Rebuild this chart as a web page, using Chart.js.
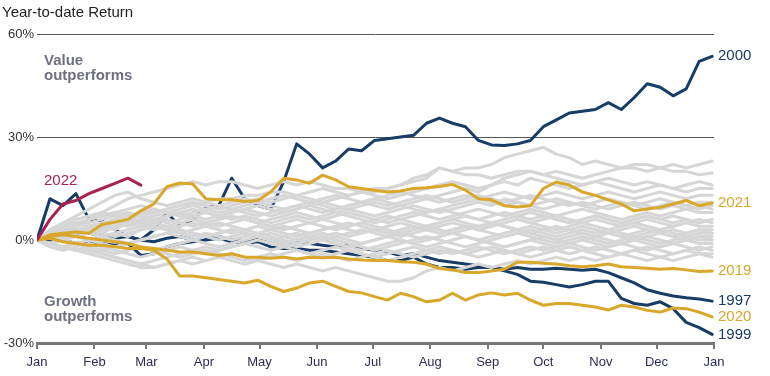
<!DOCTYPE html>
<html>
<head>
<meta charset="utf-8">
<script src="https://cdn.jsdelivr.net/npm/chart.js@4"></script>
<style>
  body { margin: 0; background: #fff; }
  #wrap { width: 770px; height: 376px; position: relative; }
</style>
</head>
<body>
<div id="wrap"><canvas id="ytd_chart"></canvas></div>
<script>
// x positions: day of year, one point a week
const days = [0,7,14,21,28,35,42,49,56,63,70,77,84,91,98,105,112,119,126,133,140,147,154,161,168,175,182,189,196,203,210,217,224,231,238,245,252,259,266,273,280,287,294,301,308,315,322,329,336,343,350,357,364];
const monthDays = [0,31,59,90,120,151,181,212,243,273,304,334,365];
const monthLabels = ['Jan','Feb','Mar','Apr','May','Jun','Jul','Aug','Sep','Oct','Nov','Dec','Jan'];
const yTicks = [-30, 0, 30, 60];

// highlighted years (% year-to-date)
const y2000 = [0,12,10,13.5,6,5.5,3,1,0,3,8,4,6,9.5,10,18,12,10,9,17,28,25,21,23,26.5,26,29,29.5,30,30.5,34,35.5,34,33,29,27.7,27.5,28,29,33,35,37,37.5,38,40,38,41.5,45.5,44.5,42,44,52,53.5];
const y1999 = [0,-0.5,0,-1,-0.5,-1,-1.5,-1,-4.5,-4,-2,-1,-0.5,0,0.5,-0.5,-1,-0.5,-2,-2.5,-2.5,-3,-3,-3.5,-4,-4.5,-5,-6,-6,-5,-7,-8,-8,-8.5,-8,-8,-9,-10,-12,-12.3,-13,-13.7,-13,-12,-12,-17,-18.5,-19,-18,-20,-24,-25.5,-27.5];
const y1997 = [0,1,2,1.5,2,1,0.5,1,0,-0.5,0.5,1,0,0.5,1,0,-0.5,0.5,0,-1,-0.5,-1,-1.5,-2,-1.5,-2.5,-3,-3.5,-4.5,-4,-5,-6,-6.5,-7,-7.5,-8,-8.5,-8,-8.5,-8.5,-8.2,-8.5,-8.8,-8.5,-9.5,-11,-12.5,-14.5,-15.5,-16.3,-16.8,-17.2,-17.8];
const y2019 = [0,1,1.5,1,0.5,0,-0.5,-1,-2,-2.5,-3,-3.5,-3.5,-4,-4.5,-4,-5,-5,-5.3,-5,-5.5,-5,-5.2,-5,-5.5,-5.8,-6,-6,-6.3,-6.5,-7,-8.3,-8.7,-9.5,-9.5,-9,-8.5,-6.5,-6.5,-6.8,-7,-7.5,-7.8,-7.5,-7,-7.8,-8,-8.2,-8.5,-8.3,-8.7,-9.2,-9];
const y2020 = [0,0.5,-0.5,-1,-1.5,-1.5,-2,-2.5,-2.5,-3,-5.5,-10.5,-10.5,-11,-11.5,-12,-12.5,-11.7,-13.5,-15,-14,-12.5,-12,-13.5,-15,-15.4,-16.5,-17.5,-15.5,-16.5,-18,-17.5,-15.5,-17.5,-16,-15.4,-16,-15.5,-17.5,-19,-18.5,-18.5,-19,-19.5,-20.4,-19,-19.5,-20.5,-21,-19.8,-20,-21,-22.4];
const y2021 = [0,1.5,2,2.3,2,4.5,5.2,6,8.5,10.5,15.5,16.6,16.3,12,11.7,11.7,11.2,11.5,14,18,17.5,16.5,18.9,17.5,15.5,15,14.5,14,14.3,15,15.2,15.6,16.2,14.5,12,11.7,10,9.6,10,15,16.9,16,14,13,11.7,10.5,8.5,9,9.5,10.5,11.5,10,10.8];
const y2022 = [0,6,10.5,11.5,13.5,15,16.5,18,16];

// all other years, grey
const greyYears = [
  [0,2,3,5,6,8,10,12,13,14,15,16,17,16,17,17,16,15,16,17,16,17,16,15,15,14,14,15,16,18,19,21,20,21,21,22,24,25,26,27,25,24,22,23,22,21,22,22,21,22,21,22,23],
  [0,1,2,3,4,5,6,7,8,8,9,10,10,11,12,12,13,13,14,14,13,14,15,14,13,14,15,15,16,17,18,21,20,19,19,18,19,20,20,19,20,19,18,19,20,21,21,20,21,20,20,19,19.5],
  [0,3,5,7,9,11,13,14,12,11,10,11,12,11,10,11,12,11,12,13,12,11,12,13,12,11,12,13,14,13,12,13,14,15,14,16,17,16,18,17,16,15,16,17,16,15,14,15,16,15,14,15,15],
  [0,1,3,4,6,7,8,9,10,9,8,9,10,9,8,9,10,11,10,9,10,11,10,9,10,11,12,11,10,11,12,11,12,13,12,13,14,13,12,13,14,13,12,13,14,13,12,13,14,13,12,13,13],
  [0,-1,1,2,3,2,4,5,6,5,7,8,7,6,7,8,9,8,7,8,9,10,9,8,9,8,7,8,9,10,9,8,9,10,11,10,12,11,10,11,12,11,10,11,12,11,10,11,12,11,10,11,11],
  [0,2,3,2,4,5,4,6,7,6,5,6,7,8,7,6,7,6,5,6,7,6,7,8,7,6,5,6,7,8,7,6,7,8,9,8,7,8,9,8,7,8,9,8,7,6,7,8,7,8,9,8,8],
  [0,1,0,2,3,4,3,5,4,3,4,5,6,5,4,5,6,5,4,3,4,5,6,5,4,5,6,7,6,5,4,5,6,5,4,5,6,7,8,7,6,5,6,7,6,5,6,7,6,5,6,5,6],
  [0,-1,-2,-1,0,1,2,1,3,4,3,2,3,4,5,4,3,2,3,4,3,2,3,4,5,4,3,4,5,4,3,2,3,4,3,4,5,6,5,4,3,4,5,4,3,4,5,4,3,4,5,4,4],
  [0,1,2,3,2,1,2,3,4,5,4,3,2,1,2,3,2,1,0,1,2,1,0,1,2,3,2,1,2,3,4,3,2,3,4,5,4,3,2,3,4,3,2,1,2,3,4,3,2,3,2,3,3],
  [0,-1,0,1,0,-1,-2,-1,0,1,2,1,0,1,2,3,2,1,2,1,0,1,2,1,0,-1,0,1,2,1,0,1,2,1,0,1,2,3,2,1,0,1,2,1,2,1,0,1,2,1,0,1,1],
  [0,1,0,-1,-2,-3,-2,-1,-2,-3,-2,-1,0,-1,-2,-1,0,1,0,-1,-2,-1,0,-1,-2,-3,-2,-1,0,-1,-2,-1,0,1,0,-1,-2,-1,0,-1,-2,-1,0,-1,-2,-1,0,-1,-2,-1,0,-1,-1],
  [0,-1,-2,-3,-2,-3,-4,-3,-2,-3,-4,-5,-4,-3,-4,-5,-6,-5,-4,-5,-6,-5,-4,-5,-6,-5,-4,-3,-4,-5,-4,-3,-4,-3,-2,-3,-4,-3,-2,-3,-2,-1,-2,-3,-2,-1,-2,-3,-2,-1,-2,-3,-2],
  [0,-1,-2,-3,-3,-4,-5,-6,-7,-8,-7,-6,-7,-6,-5,-6,-7,-6,-7,-8,-7,-8,-9,-8,-9,-10,-11,-12,-12,-11,-9,-8,-9,-8,-7,-8,-7,-6,-7,-6,-5,-6,-5,-6,-5,-4,-5,-6,-5,-6,-5,-4,-5],
  [0,-2,-3,-2,-1,-2,-3,-4,-5,-4,-3,-2,-3,-4,-3,-2,-1,-2,-3,-2,-3,-4,-3,-2,-3,-4,-5,-4,-3,-2,-3,-4,-3,-4,-5,-4,-3,-4,-5,-4,-3,-2,-3,-4,-5,-4,-3,-4,-5,-4,-3,-4,-4],
  [0,2,4,5,4,3,4,5,6,7,8,7,6,5,6,7,6,5,4,5,6,5,4,3,4,5,4,3,2,3,4,5,6,7,6,5,4,3,4,3,2,3,4,3,2,1,2,3,2,1,2,3,2],
  [0,1,3,2,3,4,5,4,5,6,7,8,9,8,7,8,9,10,9,8,9,10,11,10,9,10,11,10,11,12,13,12,11,12,13,12,11,12,13,12,11,10,11,10,9,10,11,10,9,10,9,10,9],
  [0,2,4,6,7,8,7,6,5,4,3,2,1,2,1,0,1,2,1,0,-1,0,1,2,1,2,3,2,3,4,3,4,5,4,3,4,5,6,5,6,7,6,5,6,5,4,5,6,5,4,5,6,5],
  [0,-1,-2,-1,-3,-4,-5,-6,-7,-6,-5,-4,-3,-2,-3,-2,-1,0,-1,-2,-1,0,1,0,-1,-2,-3,-2,-1,0,1,0,-1,-2,-1,0,1,2,1,0,-1,0,1,0,-1,0,1,0,-1,0,1,0,0],
  [0,1,2,1,2,3,4,5,4,5,6,5,4,5,6,7,6,5,6,7,8,7,6,7,8,7,6,5,6,7,8,9,8,7,6,7,8,7,6,7,6,5,6,7,6,5,6,7,6,7,6,5,6],
  [0,0.5,1,2,3,2,1,2,3,4,3,4,5,4,3,2,3,4,3,2,1,2,3,4,3,2,3,2,1,2,3,2,3,4,3,2,1,2,3,2,1,2,3,2,3,2,1,2,3,2,1,2,2],
  [0,2,3,4,6,7,8,7,8,9,8,7,8,9,10,9,8,7,8,9,10,9,8,9,10,11,10,9,10,9,8,9,10,11,12,11,10,11,10,9,10,11,10,9,10,11,10,9,10,11,10,9,10],
  [0,-1,-2,-3,-4,-5,-6,-7,-8,-8,-7,-6,-5,-6,-5,-4,-5,-6,-5,-4,-3,-4,-5,-4,-3,-4,-5,-6,-5,-4,-3,-2,-3,-4,-3,-2,-3,-4,-3,-2,-3,-4,-3,-2,-3,-4,-3,-2,-3,-4,-3,-2,-3],
  [0,1,2,1,0,1,0,-1,0,1,2,3,2,1,0,1,2,1,0,-1,0,1,0,-1,-2,-1,0,1,0,-1,0,1,2,1,0,-1,-2,-1,0,1,0,-1,0,1,0,-1,0,1,0,-1,0,1,0],
  [0,1,2,4,5,6,7,8,7,8,9,10,11,10,9,10,11,12,11,12,13,12,11,12,13,14,13,12,13,14,15,16,17,16,15,16,18,19,20,19,18,17,16,17,18,17,16,17,16,15,16,17,16]
];

const NAVY = '#173c66';
const GOLD = '#d9a72a';
const CRIMSON = '#a8234f';
const GREY = '#d6d6d6';
const FONT = '"Liberation Sans", Arial, sans-serif';

function toPoints(values) {
    return values.map((v, i) => ({ x: days[i], y: v }));
}

// order: lower number is drawn on top
const highlighted = [
    { year: '2022', values: y2022, color: CRIMSON, order: 0, endLabel: false },
    { year: '2021', values: y2021, color: GOLD, order: 0, endLabel: true },
    { year: '2020', values: y2020, color: GOLD, order: 0, endLabel: true },
    { year: '2019', values: y2019, color: GOLD, order: 0, endLabel: true },
    { year: '2000', values: y2000, color: NAVY, order: 2, endLabel: true },
    { year: '1999', values: y1999, color: NAVY, order: 2, endLabel: true },
    { year: '1997', values: y1997, color: NAVY, order: 2, endLabel: true }
];

const datasets = [];
highlighted.forEach(h => {
    datasets.push({
        label: h.year,
        data: toPoints(h.values),
        borderColor: h.color,
        borderWidth: 3,
        order: h.order,
        endLabel: h.endLabel
    });
});
greyYears.forEach((g, ind) => {
    datasets.push({
        label: 'grey' + ind,
        data: toPoints(g),
        borderColor: GREY,
        borderWidth: 3,
        order: 1
    });
});

// texts on the chart
const textPlugin = {
    id: 'texts',
    afterDraw(chart) {
        const ctx = chart.ctx;
        const yScale = chart.scales.y;
        ctx.save();
        ctx.textBaseline = 'alphabetic';
        ctx.textAlign = 'left';
        ctx.font = '15px ' + FONT;
        ctx.fillStyle = '#222';
        ctx.fillText('Year-to-date Return', 2, 17);

        ctx.font = 'bold 15px ' + FONT;
        ctx.fillStyle = '#6d7180';
        ctx.fillText('Value', 44, 65);
        ctx.fillText('outperforms', 44, 80);
        ctx.fillText('Growth', 44, 306);
        ctx.fillText('outperforms', 44, 321);

        ctx.font = '15px ' + FONT;
        ctx.fillStyle = CRIMSON;
        ctx.fillText('2022', 44, 185);

        ctx.textBaseline = 'middle';
        chart.data.datasets.forEach(ds => {
            if (!ds.endLabel) return;
            const last = ds.data[ds.data.length - 1].y;
            ctx.fillStyle = ds.borderColor;
            ctx.fillText(ds.label, chart.chartArea.right + 4, yScale.getPixelForValue(last));
        });
        ctx.restore();
    }
};

new Chart(document.getElementById('ytd_chart'), {
    type: 'line',
    data: { datasets: datasets },
    options: {
        responsive: true,
        maintainAspectRatio: false,
        animation: false,
        events: [],
        layout: { padding: { top: 34, right: 56, left: 0, bottom: 0 } },
        elements: {
            point: { radius: 0 },
            line: { tension: 0, borderCapStyle: 'round', borderJoinStyle: 'round' }
        },
        plugins: {
            legend: { display: false },
            tooltip: { enabled: false }
        },
        scales: {
            x: {
                type: 'linear',
                min: 0,
                max: 365,
                afterBuildTicks: scale => {
                    scale.ticks = monthDays.map(d => ({ value: d }));
                },
                afterFit: scale => { scale.height = 33; },
                ticks: {
                    autoSkip: false,
                    maxRotation: 0,
                    padding: 6,
                    color: '#2b2f55',
                    font: { family: FONT, size: 13 },
                    callback: v => monthLabels[monthDays.indexOf(v)]
                },
                grid: {
                    drawOnChartArea: false,
                    drawTicks: true,
                    tickLength: 6,
                    color: '#777',
                    lineWidth: 2
                },
                border: { color: '#777', width: 3 }
            },
            y: {
                min: -30,
                max: 60,
                afterBuildTicks: scale => {
                    scale.ticks = yTicks.map(v => ({ value: v }));
                },
                afterFit: scale => { scale.width = 37; },
                ticks: {
                    padding: 3,
                    color: '#333',
                    font: { family: FONT, size: 13 },
                    callback: v => v + '%'
                },
                grid: {
                    drawTicks: false,
                    lineWidth: 1,
                    color: c => (c.tick && c.tick.value > 0) ? '#555' : 'rgba(0,0,0,0)'
                },
                border: { display: false }
            }
        }
    },
    plugins: [textPlugin]
});
</script>
</body>
</html>
